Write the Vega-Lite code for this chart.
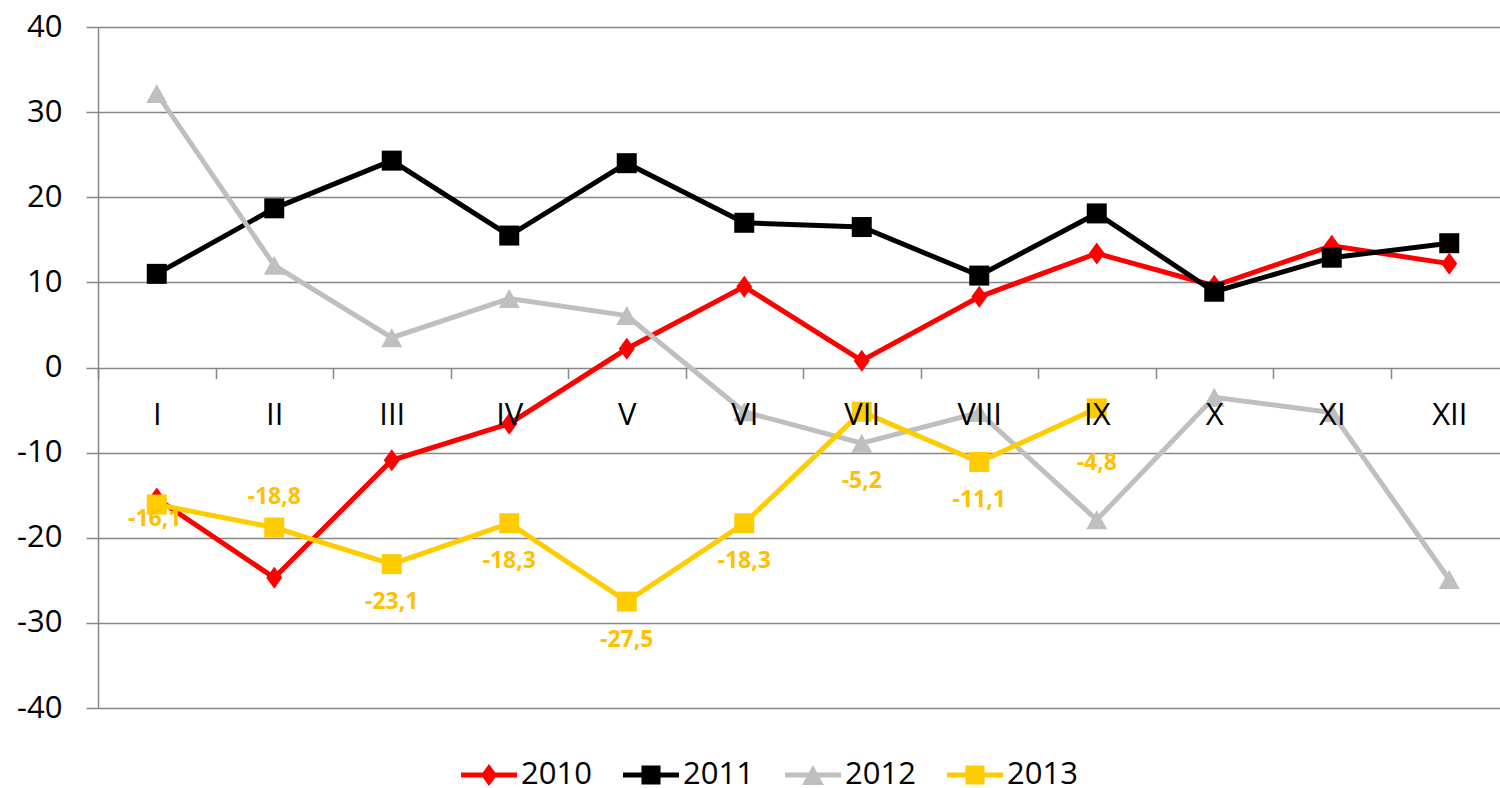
{
  "$schema": "https://vega.github.io/schema/vega-lite/v6.json",
  "width": 1402,
  "height": 681,
  "autosize": "none",
  "padding": {"left": 98, "top": 27, "right": 0, "bottom": 80},
  "config": {
    "font": "Open Sans",
    "view": {"stroke": null},
    "locale": {"number": {"decimal": ",", "thousands": ".", "grouping": [3], "currency": ["", ""], "minus": "-"}}
  },
  "data": {"values": [
    {"month": "I", "series": "2010", "value": -15.4},
    {"month": "II", "series": "2010", "value": -24.7},
    {"month": "III", "series": "2010", "value": -10.9},
    {"month": "IV", "series": "2010", "value": -6.6},
    {"month": "V", "series": "2010", "value": 2.2},
    {"month": "VI", "series": "2010", "value": 9.5},
    {"month": "VII", "series": "2010", "value": 0.8},
    {"month": "VIII", "series": "2010", "value": 8.3},
    {"month": "IX", "series": "2010", "value": 13.4},
    {"month": "X", "series": "2010", "value": 9.6},
    {"month": "XI", "series": "2010", "value": 14.3},
    {"month": "XII", "series": "2010", "value": 12.2},
    {"month": "I", "series": "2011", "value": 11.0},
    {"month": "II", "series": "2011", "value": 18.7},
    {"month": "III", "series": "2011", "value": 24.3},
    {"month": "IV", "series": "2011", "value": 15.5},
    {"month": "V", "series": "2011", "value": 24.0},
    {"month": "VI", "series": "2011", "value": 17.0},
    {"month": "VII", "series": "2011", "value": 16.5},
    {"month": "VIII", "series": "2011", "value": 10.8},
    {"month": "IX", "series": "2011", "value": 18.1},
    {"month": "X", "series": "2011", "value": 8.9},
    {"month": "XI", "series": "2011", "value": 12.9},
    {"month": "XII", "series": "2011", "value": 14.6},
    {"month": "I", "series": "2012", "value": 32.2},
    {"month": "II", "series": "2012", "value": 12.0},
    {"month": "III", "series": "2012", "value": 3.5},
    {"month": "IV", "series": "2012", "value": 8.1},
    {"month": "V", "series": "2012", "value": 6.1},
    {"month": "VI", "series": "2012", "value": -5.2},
    {"month": "VII", "series": "2012", "value": -8.9},
    {"month": "VIII", "series": "2012", "value": -5.3},
    {"month": "IX", "series": "2012", "value": -17.9},
    {"month": "X", "series": "2012", "value": -3.5},
    {"month": "XI", "series": "2012", "value": -5.3},
    {"month": "XII", "series": "2012", "value": -24.9},
    {"month": "I", "series": "2013", "value": -16.1},
    {"month": "II", "series": "2013", "value": -18.8},
    {"month": "III", "series": "2013", "value": -23.1},
    {"month": "IV", "series": "2013", "value": -18.3},
    {"month": "V", "series": "2013", "value": -27.5},
    {"month": "VI", "series": "2013", "value": -18.3},
    {"month": "VII", "series": "2013", "value": -5.2},
    {"month": "VIII", "series": "2013", "value": -11.1},
    {"month": "IX", "series": "2013", "value": -4.8}
  ]},
  "encoding": {
    "x": {
      "field": "month", "type": "nominal",
      "scale": {"domain": ["I","II","III","IV","V","VI","VII","VIII","IX","X","XI","XII"], "range": [0, 1410], "paddingInner": 0, "paddingOuter": 0},
      "axis": {
        "title": null, "orient": "bottom", "offset": -340.5, "zindex": 1,
        "domain": false, "grid": false,
        "ticks": true, "tickBand": "extent", "tickSize": 11, "tickColor": "#868686", "tickWidth": 1.5,
        "labelAngle": 0, "labelFontSize": 31, "labelColor": "#000000", "labelPadding": 22, "labelFont": "Open Sans"
      }
    },
    "y": {
      "field": "value", "type": "quantitative",
      "scale": {"domain": [-40, 40], "nice": false, "zero": false},
      "axis": {
        "title": null, "values": [-40,-30,-20,-10,0,10,20,30,40],
        "grid": true, "gridColor": "#868686", "gridWidth": 1.5,
        "domain": true, "domainColor": "#868686", "domainWidth": 1.5,
        "ticks": true, "tickSize": 12, "tickColor": "#868686", "tickWidth": 1.5,
        "labelFontSize": 31, "labelColor": "#000000", "labelPadding": 24, "labelFont": "Open Sans"
      }
    }
  },
  "layer": [
    {
      "transform": [{"filter": "datum.value > 1000"}],
      "mark": {"type": "point", "filled": true, "opacity": 1, "size": 3136, "strokeWidth": 0},
      "encoding": {
        "color": {"field": "series", "type": "nominal",
          "scale": {"domain": ["2010","2011","2012","2013"], "range": ["#FF0000","#000000","#BFBFBF","#FFCC00"]},
          "legend": {"orient": "none", "legendX": 363, "legendY": 720, "direction": "horizontal", "title": null, "symbolSize": 3136, "symbolStrokeWidth": 0, "symbolOpacity": 1, "labelFontSize": 31, "labelFont": "Open Sans", "labelColor": "#000000", "labelOffset": 4, "columnPadding": 31, "padding": 0}},
        "shape": {"field": "series", "type": "nominal",
          "scale": {"domain": ["2010","2011","2012","2013"], "range": [
            "M-1,-0.09H1V0.09H-1ZM0,-0.39L0.29,0L0,0.39L-0.29,0Z",
            "M-1,-0.09H1V0.09H-1ZM-0.34,-0.34H0.34V0.34H-0.34Z",
            "M-1,-0.09H1V0.09H-1ZM0,-0.36L0.39,0.36L-0.39,0.36Z",
            "M-1,-0.09H1V0.09H-1ZM-0.34,-0.34H0.34V0.34H-0.34Z"
          ]},
          "legend": {"orient": "none", "legendX": 363, "legendY": 720, "direction": "horizontal", "title": null, "symbolSize": 3136, "symbolStrokeWidth": 0, "symbolOpacity": 1, "labelFontSize": 31, "labelFont": "Open Sans", "labelColor": "#000000", "labelOffset": 4, "columnPadding": 31, "padding": 0}}
      }
    },
    {
      "mark": {"type": "line", "strokeWidth": 5, "strokeJoin": "miter"},
      "encoding": {
        "color": {"field": "series", "type": "nominal", "legend": null}
      }
    },
    {
      "transform": [{"filter": "datum.series === '2010'"}],
      "mark": {"type": "point", "filled": true, "opacity": 1, "size": 400, "shape": "M0,-1.1L0.8,0L0,1.1L-0.8,0Z", "strokeWidth": 0},
      "encoding": {"color": {"field": "series", "type": "nominal", "legend": null}}
    },
    {
      "transform": [{"filter": "datum.series === '2011'"}],
      "mark": {"type": "point", "filled": true, "opacity": 1, "size": 400, "shape": "square", "strokeWidth": 0},
      "encoding": {"color": {"field": "series", "type": "nominal", "legend": null}}
    },
    {
      "transform": [{"filter": "datum.series === '2012'"}],
      "mark": {"type": "point", "filled": true, "opacity": 1, "size": 400, "shape": "M0,-0.95L1.05,0.95L-1.05,0.95Z", "strokeWidth": 0},
      "encoding": {"color": {"field": "series", "type": "nominal", "legend": null}}
    },
    {
      "transform": [{"filter": "datum.series === '2013'"}],
      "mark": {"type": "point", "filled": true, "opacity": 1, "size": 400, "shape": "square", "strokeWidth": 0},
      "encoding": {"color": {"field": "series", "type": "nominal", "legend": null}}
    },
    {
      "transform": [{"filter": "datum.series === '2013' && indexof(['III','IV','V','VI','VIII'], datum.month) >= 0"}],
      "mark": {"type": "text", "dy": 38, "fontSize": 23, "fontWeight": "bold", "color": "#FFC000", "align": "center", "baseline": "middle"},
      "encoding": {"text": {"field": "value", "type": "quantitative", "format": ".1f"}}
    },
    {
      "transform": [{"filter": "datum.series === '2013' && datum.month === 'II'"}],
      "mark": {"type": "text", "dy": -31, "fontSize": 23, "fontWeight": "bold", "color": "#FFC000", "align": "center", "baseline": "middle"},
      "encoding": {"text": {"field": "value", "type": "quantitative", "format": ".1f"}}
    },
    {
      "transform": [{"filter": "datum.series === '2013' && datum.month === 'I'"}],
      "mark": {"type": "text", "dy": 14, "dx": -2, "fontSize": 23, "fontWeight": "bold", "color": "#FFC000", "align": "center", "baseline": "middle"},
      "encoding": {"text": {"field": "value", "type": "quantitative", "format": ".1f"}}
    },
    {
      "transform": [{"filter": "datum.series === '2013' && datum.month === 'VII'"}],
      "mark": {"type": "text", "dy": 69, "fontSize": 23, "fontWeight": "bold", "color": "#FFC000", "align": "center", "baseline": "middle"},
      "encoding": {"text": {"field": "value", "type": "quantitative", "format": ".1f"}}
    },
    {
      "transform": [{"filter": "datum.series === '2013' && datum.month === 'IX'"}],
      "mark": {"type": "text", "dy": 55, "fontSize": 23, "fontWeight": "bold", "color": "#FFC000", "align": "center", "baseline": "middle"},
      "encoding": {"text": {"field": "value", "type": "quantitative", "format": ".1f"}}
    }
  ]
}
